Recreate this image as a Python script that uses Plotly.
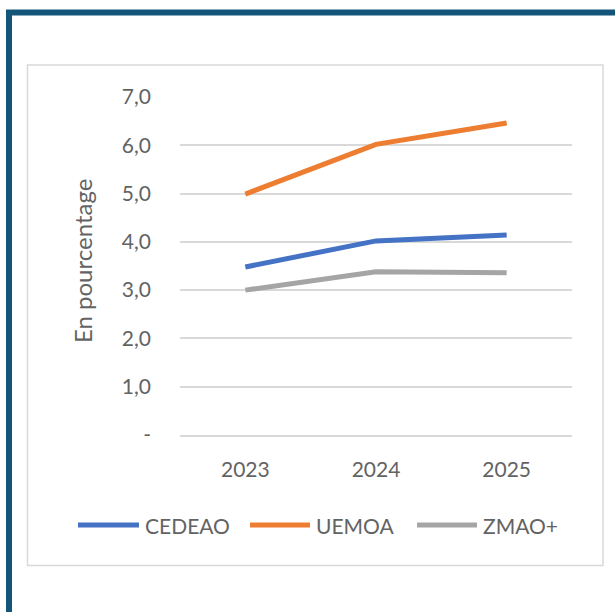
import plotly.graph_objects as go

# Growth rates by zone (percent)
years = ["2023", "2024", "2025"]
cedeao = [3.48, 4.02, 4.14]
uemoa = [4.99, 6.02, 6.46]
zmao = [3.00, 3.38, 3.36]

series_names = ["CEDEAO", "UEMOA", "ZMAO+"]
series_values = [cedeao, uemoa, zmao]
series_colors = ["#4472C4", "#ED7D31", "#A5A5A5"]

y_tick_vals = [0, 1, 2, 3, 4, 5, 6, 7]
y_tick_text = ["-", "1,0", "2,0", "3,0", "4,0", "5,0", "6,0", "7,0"]

W, H = 615, 612
L, R, T, B = 180, 43, 97, 177
PW, PH = W - L - R, H - T - B

FONT = "Lato"
TXT = "#636363"
GRID = "#D9D9D9"
WEIGHT = 400


def px(x):
    return (x - L) / PW


def py(y):
    return (H - B - y) / PH


def tfont(size):
    return dict(family=FONT, size=size, color=TXT, weight=WEIGHT)


fig = go.Figure()
for name, vals, col in zip(series_names, series_values, series_colors):
    fig.add_trace(go.Scatter(
        x=years, y=vals, name=name, mode="lines",
        line=dict(color=col, width=5),
        showlegend=False,
    ))

shapes = []
annotations = []

# outer dark frame
shapes.append(dict(type="rect", xref="paper", yref="paper",
                   x0=px(9), x1=px(720), y0=py(12.5), y1=py(720),
                   line=dict(color="#13567A", width=6), layer="below"))
# chart area border
shapes.append(dict(type="rect", xref="paper", yref="paper",
                   x0=px(27.5), x1=px(603), y0=py(65), y1=py(565.5),
                   line=dict(color=GRID, width=1.5), layer="below"))

# legend row
legend_items = [(78, 139, 143), (250, 310, 314), (417, 477, 481)]
for (x0, x1, tx), name, col in zip(legend_items, series_names, series_colors):
    shapes.append(dict(type="line", xref="paper", yref="paper",
                       x0=px(x0), x1=px(x1), y0=py(525), y1=py(525),
                       line=dict(color=col, width=5)))
    annotations.append(dict(xref="paper", yref="paper", x=px(tx), y=py(525),
                            text=name, showarrow=False, xanchor="left",
                            yanchor="middle", font=tfont(21)))

# y-axis title
annotations.append(dict(xref="paper", yref="paper", x=px(82), y=py(261),
                        text="En pourcentage", textangle=-90, showarrow=False,
                        xanchor="center", yanchor="middle", font=tfont(24)))

fig.update_layout(
    width=W, height=H,
    margin=dict(l=L, r=R, t=T, b=B),
    paper_bgcolor="white", plot_bgcolor="white",
    font=tfont(21),
    shapes=shapes, annotations=annotations,
    showlegend=False,
)
fig.update_xaxes(
    type="category", range=[-0.5, 2.5],
    showgrid=False, showline=True, linecolor=GRID, linewidth=1.5,
    ticks="", ticklabelstandoff=15,
    tickfont=tfont(21),
)
fig.update_yaxes(
    range=[0, 7], tickvals=y_tick_vals, ticktext=y_tick_text,
    showgrid=True, gridcolor=GRID, gridwidth=1.5,
    zeroline=False, showline=False, ticks="", ticklabelstandoff=28,
    tickfont=tfont(21),
)

fig.write_html("out.html")
